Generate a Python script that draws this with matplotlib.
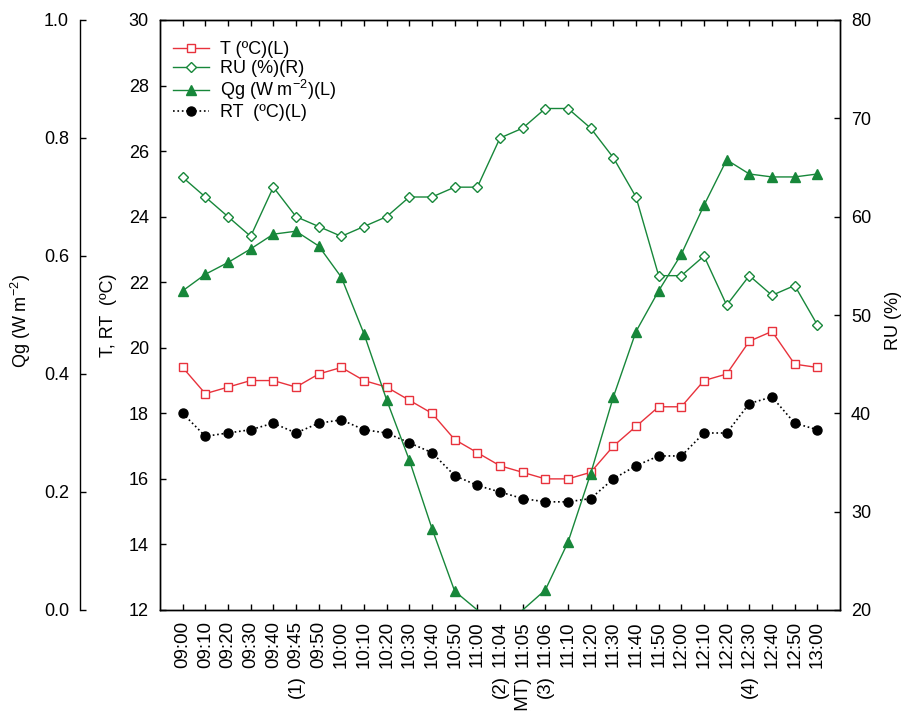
"""
Greenhouse run, 09:00-13:00: air temperature T, radiant temperature RT,
relative humidity RU (right axis) and Qg (outer left axis).
Renders out.png
"""
import matplotlib
matplotlib.use('Agg')
import matplotlib.pyplot as plt

plt.rcParams['font.family'] = ['Liberation Sans', 'DejaVu Sans']
plt.rcParams['mathtext.default'] = 'regular'
plt.rcParams['font.size'] = 13

times = ['09:00', '09:10', '09:20', '09:30', '09:40', '09:45', '09:50', '10:00',
         '10:10', '10:20', '10:30', '10:40', '10:50', '11:00', '11:04', '11:05',
         '11:06', '11:10', '11:20', '11:30', '11:40', '11:50', '12:00', '12:10',
         '12:20', '12:30', '12:40', '12:50', '13:00']
notes = ['', '', '', '', '', '(1)', '', '', '', '', '', '', '', '', '(2)', '(MT)',
         '(3)', '', '', '', '', '', '', '', '', '(4)', '', '', '']

T = [19.4, 18.6, 18.8, 19.0, 19.0, 18.8, 19.2, 19.4, 19.0, 18.8, 18.4, 18.0, 17.2,
     16.8, 16.4, 16.2, 16.0, 16.0, 16.2, 17.0, 17.6, 18.2, 18.2, 19.0, 19.2, 20.2,
     20.5, 19.5, 19.4]
RT = [18.0, 17.3, 17.4, 17.5, 17.7, 17.4, 17.7, 17.8, 17.5, 17.4, 17.1, 16.8, 16.1,
      15.8, 15.6, 15.4, 15.3, 15.3, 15.4, 16.0, 16.4, 16.7, 16.7, 17.4, 17.4, 18.3,
      18.5, 17.7, 17.5]
RU = [64, 62, 60, 58, 63, 60, 59, 58, 59, 60, 62, 62, 63, 63, 68, 69, 71, 71, 69,
      66, 62, 54, 54, 56, 51, 54, 52, 53, 49]
Qg = [0.541, 0.569, 0.589, 0.612, 0.637, 0.642, 0.617, 0.564, 0.468, 0.356, 0.254,
      0.138, 0.032, 0.0, -0.05, 0.0, 0.034, 0.115, 0.231, 0.361, 0.472, 0.541, 0.603,
      0.686, 0.763, 0.739, 0.734, 0.734, 0.739]

RED = '#e8323c'
GREEN = '#17873a'

x = list(range(len(times)))

fig = plt.figure(figsize=(9.04, 7.11), dpi=100)
ax = fig.add_axes([160/904, 1 - 610/711, 680/904, 590/711])
ax_r = ax.twinx()
ax_q = ax.twinx()

# main axis: T and RT
lT, = ax.plot(x, T, '-', color=RED, lw=1, marker='s', ms=6, mfc='white', mec=RED,
              mew=1, label='T (ºC)(L)')
lRT, = ax.plot(x, RT, ':', color='black', lw=1.2, marker='o', ms=6.5, mfc='black',
               mec='black', label='RT  (ºC)(L)')
ax.set_xlim(-1, len(times))
ax.set_ylim(12, 30)
ax.set_yticks(range(12, 31, 2))
ax.set_xticks(x)
ax.set_xticklabels(times, rotation=90, fontsize=13.5)
ax.tick_params(axis='both', direction='in', length=4, width=1, pad=8)
ax.tick_params(axis='x', top=True)
ax.set_ylabel('T, RT  (ºC)')
ax.yaxis.set_label_coords(-0.063, 0.5)

# right axis: RU
lRU, = ax_r.plot(x, RU, '-', color=GREEN, lw=1, marker='D', ms=5.5, mfc='white',
                 mec=GREEN, mew=1, label='RU (%)(R)')
ax_r.set_ylim(20, 80)
ax_r.set_yticks(range(20, 81, 10))
ax_r.tick_params(direction='in', length=4, width=1, pad=8)
ax_r.set_ylabel('RU (%)')
ax_r.yaxis.set_label_coords(1.066, 0.49)

# outer left axis: Qg
shown = [i for i, v in enumerate(Qg) if v > 0.01]
lQg, = ax_q.plot(x, Qg, '-', color=GREEN, lw=1, marker='^', ms=6.5, mfc=GREEN,
                 mec=GREEN, markevery=shown, label='Qg (W m$^{-2}$)(L)')
ax_q.set_ylim(0, 1)
ax_q.set_yticks([0, 0.2, 0.4, 0.6, 0.8, 1.0])
ax_q.set_yticklabels(['0.0', '0.2', '0.4', '0.6', '0.8', '1.0'])
ax_q.yaxis.set_ticks_position('left')
ax_q.yaxis.set_label_position('left')
ax_q.spines['left'].set_position(('axes', -80/680))
for s in ['top', 'right', 'bottom']:
    ax_q.spines[s].set_visible(False)
ax_q.tick_params(direction='in', length=4, width=1, pad=8)
ax_q.set_ylabel('Qg (W m$^{-2}$)')
ax_q.yaxis.set_label_coords(-0.187, 0.49)

for a in (ax, ax_r, ax_q):
    for s in a.spines.values():
        s.set_linewidth(1)

# event notes under the time labels
for i, n in enumerate(notes):
    if n:
        ax.annotate(n, xy=(i, 0), xycoords=('data', 'axes fraction'),
                    xytext=(0, -47), textcoords='offset points',
                    rotation=90, ha='center', va='top', fontsize=13.5)

ax_q.legend([lT, lRU, lQg, lRT], [l.get_label() for l in (lT, lRU, lQg, lRT)],
            loc='upper left', bbox_to_anchor=(0.0, 0.985), frameon=False,
            handlelength=2.0, handletextpad=0.6, labelspacing=0.08, borderaxespad=0.3)

fig.savefig('out.png', dpi=100, facecolor='white')
